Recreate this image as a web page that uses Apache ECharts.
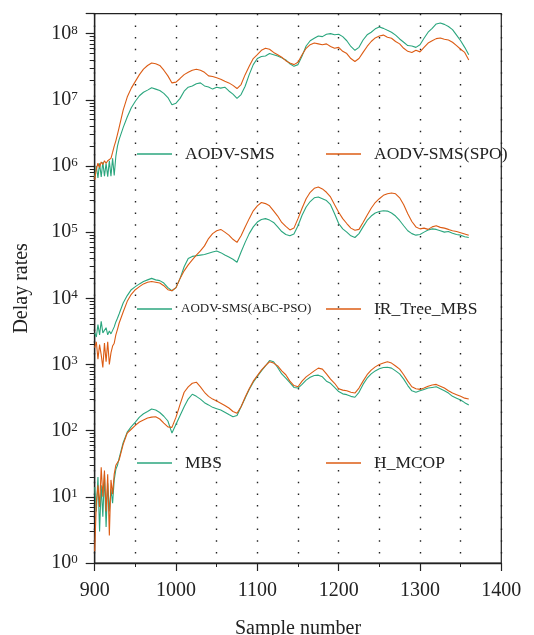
<!DOCTYPE html>
<html>
<head>
<meta charset="utf-8">
<script src="https://cdn.jsdelivr.net/npm/echarts@6/dist/echarts.min.js"></script>
<style>
    html, body { margin: 0; padding: 0; background: #fff; }
    #chart { width: 534px; height: 635px; }
</style>
</head>
<body>
<div id="chart"></div>
<script>
    // sample numbers (x)
    const samples = [
        900, 902, 904, 906, 908, 910, 912, 914, 916, 918, 920, 922, 924, 926, 928, 930,
        935, 940, 945, 950, 955, 960, 965, 970, 975, 980, 985, 990, 995, 1000,
        1005, 1010, 1015, 1020, 1025, 1030, 1035, 1040, 1045, 1050, 1055, 1060, 1065, 1070, 1075, 1080, 1085, 1090, 1095, 1100,
        1105, 1110, 1115, 1120, 1125, 1130, 1135, 1140, 1145, 1150, 1155, 1160, 1165, 1170, 1175, 1180, 1185, 1190, 1195, 1200,
        1205, 1210, 1215, 1220, 1225, 1230, 1235, 1240, 1245, 1250, 1255, 1260, 1265, 1270, 1275, 1280, 1285, 1290, 1295, 1300,
        1305, 1310, 1315, 1320, 1325, 1330, 1335, 1340, 1345, 1350, 1355, 1360
    ]

    const aodvSms = [
        6.8e5, 1.0e6, 6.6e5, 1.1e6, 6.8e5, 1.15e6, 7.0e5, 1.1e6, 6.9e5, 1.2e6, 7.0e5, 1.3e6, 7.2e5, 1.4e6, 2.0e6, 2.5e6,
        3.8e6, 5.5e6, 7.6e6, 9.5e6, 1.15e7, 1.3e7, 1.4e7, 1.52e7, 1.45e7, 1.38e7, 1.25e7, 1.08e7, 8.4e6, 8.9e6,
        1.05e7, 1.35e7, 1.55e7, 1.62e7, 1.75e7, 1.8e7, 1.62e7, 1.56e7, 1.45e7, 1.55e7, 1.5e7, 1.55e7, 1.36e7, 1.22e7, 1.05e7, 1.2e7, 1.6e7, 2.4e7, 3.4e7, 4.2e7,
        4.5e7, 4.6e7, 5.0e7, 4.8e7, 4.6e7, 4.3e7, 4.0e7, 3.5e7, 3.2e7, 3.4e7, 4.6e7, 6.5e7, 7.8e7, 8.5e7, 9.2e7, 9.0e7, 9.8e7, 1.0e8, 9.6e7, 9.8e7,
        9.0e7, 7.8e7, 6.4e7, 5.6e7, 6.2e7, 8.0e7, 9.6e7, 1.05e8, 1.18e8, 1.26e8, 1.2e8, 1.12e8, 1.05e8, 9.5e7, 8.3e7, 7.4e7, 6.6e7, 6.5e7, 6.2e7, 6.8e7,
        8.5e7, 1.05e8, 1.2e8, 1.4e8, 1.45e8, 1.38e8, 1.28e8, 1.15e8, 9.5e7, 7.8e7, 6.2e7, 4.8e7
    ]

    const aodvSmsSpo = [
        6.2e5, 9.0e5, 1.1e6, 9.5e5, 1.15e6, 1.05e6, 1.2e6, 1.1e6, 1.2e6, 1.15e6, 1.3e6, 1.6e6, 2.0e6, 2.4e6, 3.0e6, 3.8e6,
        7.0e6, 1.1e7, 1.5e7, 1.9e7, 2.4e7, 2.9e7, 3.3e7, 3.6e7, 3.5e7, 3.3e7, 2.8e7, 2.3e7, 1.8e7, 1.85e7,
        2.1e7, 2.4e7, 2.6e7, 2.8e7, 2.9e7, 2.8e7, 2.6e7, 2.3e7, 2.25e7, 2.15e7, 2.05e7, 1.9e7, 1.8e7, 1.65e7, 1.48e7, 1.7e7, 2.4e7, 3.2e7, 4.2e7, 4.8e7,
        5.6e7, 6.0e7, 5.8e7, 5.2e7, 4.8e7, 4.4e7, 3.9e7, 3.6e7, 3.4e7, 3.7e7, 4.8e7, 6.0e7, 6.8e7, 7.2e7, 7.0e7, 6.8e7, 7.0e7, 6.4e7, 6.0e7, 6.2e7,
        5.4e7, 5.0e7, 4.2e7, 3.8e7, 4.2e7, 5.2e7, 6.4e7, 7.6e7, 8.6e7, 9.2e7, 9.5e7, 8.8e7, 8.5e7, 7.6e7, 7.0e7, 6.0e7, 5.4e7, 5.2e7, 5.6e7, 5.3e7,
        6.2e7, 7.2e7, 7.8e7, 8.4e7, 8.6e7, 8.2e7, 8.0e7, 7.4e7, 6.6e7, 5.8e7, 5.2e7, 4.0e7
    ]

    const abcPso = [
        3.0e3, 2.6e3, 4.0e3, 2.8e3, 4.5e3, 3.0e3, 2.9e3, 3.6e3, 2.8e3, 3.2e3, 2.9e3, 3.0e3, 3.7e3, 4.4e3, 5.0e3, 5.8e3,
        8.5e3, 1.1e4, 1.35e4, 1.5e4, 1.65e4, 1.8e4, 1.9e4, 2.0e4, 1.9e4, 1.85e4, 1.7e4, 1.45e4, 1.3e4, 1.45e4,
        2.0e4, 3.0e4, 4.0e4, 4.3e4, 4.4e4, 4.5e4, 4.6e4, 4.8e4, 5.0e4, 5.2e4, 4.9e4, 4.5e4, 4.2e4, 3.9e4, 3.5e4, 5.0e4, 7.0e4, 9.5e4, 1.2e5, 1.42e5,
        1.55e5, 1.6e5, 1.52e5, 1.4e5, 1.2e5, 1.02e5, 9.2e4, 8.8e4, 9.4e4, 1.25e5, 1.8e5, 2.4e5, 2.9e5, 3.3e5, 3.4e5, 3.2e5, 3.0e5, 2.6e5, 1.9e5, 1.35e5,
        1.12e5, 1.0e5, 8.8e4, 8.3e4, 9.5e4, 1.2e5, 1.5e5, 1.75e5, 1.95e5, 2.05e5, 2.1e5, 2.08e5, 1.95e5, 1.75e5, 1.5e5, 1.25e5, 1.05e5, 9.5e4, 9.0e4, 9.2e4,
        1.0e5, 1.08e5, 1.12e5, 1.1e5, 1.05e5, 1.0e5, 1.02e5, 9.6e4, 9.2e4, 9.0e4, 8.5e4, 8.3e4
    ]

    const irTreeMbs = [
        1.8e3, 2.2e3, 1.2e3, 2.0e3, 1.4e3, 9.0e2, 2.1e3, 1.1e3, 2.2e3, 1.0e3, 1.5e3, 1.9e3, 2.1e3, 2.8e3, 3.4e3, 4.2e3,
        6.2e3, 9.0e3, 1.15e4, 1.35e4, 1.5e4, 1.65e4, 1.75e4, 1.8e4, 1.75e4, 1.7e4, 1.55e4, 1.35e4, 1.3e4, 1.45e4,
        2.0e4, 2.6e4, 3.2e4, 3.8e4, 4.5e4, 5.2e4, 6.2e4, 8.0e4, 9.5e4, 1.05e5, 1.1e5, 1.0e5, 9.0e4, 7.8e4, 7.0e4, 8.8e4, 1.2e5, 1.6e5, 2.1e5, 2.5e5,
        2.8e5, 2.7e5, 2.5e5, 2.1e5, 1.75e5, 1.4e5, 1.22e5, 1.08e5, 1.15e5, 1.6e5, 2.3e5, 3.2e5, 4.0e5, 4.6e5, 4.8e5, 4.5e5, 4.0e5, 3.4e5, 2.6e5, 2.0e5,
        1.6e5, 1.35e5, 1.15e5, 1.07e5, 1.1e5, 1.4e5, 1.8e5, 2.3e5, 2.8e5, 3.2e5, 3.6e5, 3.8e5, 3.9e5, 3.8e5, 3.3e5, 2.6e5, 1.9e5, 1.45e5, 1.2e5, 1.12e5,
        1.15e5, 1.1e5, 1.2e5, 1.25e5, 1.18e5, 1.15e5, 1.1e5, 1.05e5, 1.02e5, 9.8e4, 9.4e4, 9.0e4
    ]

    const mbs = [
        14, 6, 20, 3, 15, 5, 22, 3.5, 16, 6, 13, 8, 18, 26, 30, 38,
        66, 95, 115, 135, 160, 180, 195, 212, 205, 188, 165, 140, 92, 125,
        170, 230, 300, 355, 330, 300, 265, 245, 225, 215, 205, 190, 175, 162, 170, 230, 310, 420, 540, 660,
        800, 950, 1150, 1100, 900, 720, 620, 530, 450, 440, 500, 580, 640, 680, 690, 650, 560, 520, 450, 390,
        360, 350, 330, 320, 380, 500, 620, 720, 800, 860, 900, 910, 880, 800, 720, 600, 480, 400, 380, 400,
        420, 440, 450, 460, 430, 400, 370, 330, 310, 290, 265, 245
    ]

    const hMcop = [
        1.5, 8, 15, 7, 28, 10, 25, 6, 22, 2.6, 18, 11, 22, 30, 32, 36,
        62, 92, 105, 120, 135, 145, 155, 160, 162, 150, 130, 114, 112, 160,
        250, 380, 460, 520, 540, 460, 380, 330, 300, 280, 260, 240, 220, 195, 183, 230, 320, 430, 560, 680,
        820, 960, 1100, 1050, 950, 800, 700, 560, 480, 460, 560, 650, 720, 800, 880, 850, 720, 600, 520, 430,
        410, 400, 380, 370, 440, 560, 700, 820, 920, 1000, 1050, 1100, 1050, 950, 850, 700, 560, 460, 430, 420,
        440, 470, 490, 500, 470, 440, 400, 370, 350, 330, 310, 300
    ]

    const seriesNames = ['AODV-SMS', 'AODV-SMS(SPO)', 'AODV-SMS(ABC-PSO)', 'IR_Tree_MBS', 'MBS', 'H_MCOP']
    const seriesValues = [aodvSms, aodvSmsSpo, abcPso, irTreeMbs, mbs, hMcop]
    const yExponents = [0, 1, 2, 3, 4, 5, 6, 7, 8]
    const yTop = 2e8

    const GREEN = '#2ba67e'
    const ORANGE = '#dc5c14'
    const INK = '#222'
    const FONT = 'Liberation Serif'

    // minor tick positions (2..9 per decade) on a hidden log10 scale
    const minorTicks = []
    yExponents.forEach(e => {
        for (let k = 2; k <= 9; k++) {
            const v = Math.log10(k) + e
            if (v <= Math.log10(yTop)) minorTicks.push(v)
        }
    })

    const chart = echarts.init(document.getElementById('chart'))

    // [name, left, top, fontSize]
    const legendPos = [
        ['AODV-SMS', 137, 144, 17.5],
        ['AODV-SMS(SPO)', 326, 144, 17.5],
        ['AODV-SMS(ABC-PSO)', 137, 299, 13],
        ['IR_Tree_MBS', 326, 299, 17.5],
        ['MBS', 137, 453, 17.5],
        ['H_MCOP', 326, 453, 17.5]
    ]

    const dotted = {
        color: INK,
        width: 1.4,
        type: [1.5, 10.2]
    }

    chart.setOption({
        animation: false,
        textStyle: { fontFamily: FONT, color: INK },
        grid: {
            left: 94.7,
            right: 32.7,
            top: 13.7,
            bottom: 72,
            outerBoundsMode: 'none',
            containLabel: false,
            show: true,
            borderColor: INK,
            borderWidth: 1.2
        },
        legend: legendPos.map(p => ({
            data: [p[0]],
            left: p[1],
            top: p[2],
            padding: 0,
            icon: 'rect',
            itemWidth: 35,
            itemHeight: 1.6,
            selectedMode: false,
            textStyle: {
                fontFamily: FONT,
                fontSize: p[3],
                lineHeight: 20,
                color: INK,
                padding: [0, 0, 0, p[3] < 15 ? 4 : 8]
            }
        })),
        xAxis: {
            type: 'value',
            min: 900,
            max: 1400,
            interval: 100,
            name: 'Sample number',
            nameLocation: 'middle',
            nameGap: 56,
            nameTextStyle: { fontFamily: FONT, fontSize: 20, color: INK },
            axisLine: { lineStyle: { color: INK, width: 1.3 } },
            axisTick: { length: 8, lineStyle: { color: INK, width: 1.2 } },
            minorTick: { show: true, splitNumber: 2, length: 4, lineStyle: { color: INK, width: 1 } },
            axisLabel: { fontFamily: FONT, fontSize: 20, color: INK, margin: 18, formatter: v => String(v) },
            splitLine: { show: true, lineStyle: dotted },
            minorSplitLine: { show: true, lineStyle: dotted }
        },
        yAxis: [
            {
                type: 'log',
                logBase: 10,
                min: 1,
                max: yTop,
                name: 'Delay rates',
                nameLocation: 'middle',
                nameGap: 63,
                nameTextStyle: { fontFamily: FONT, fontSize: 20, color: INK },
                axisLine: { show: true, lineStyle: { color: INK, width: 1.3 } },
                axisTick: { show: true, length: 9, lineStyle: { color: INK, width: 1.2 } },
                axisLabel: {
                    margin: 17,
                    formatter: v => {
                        const e = Math.round(Math.log10(v))
                        if (yExponents.indexOf(e) < 0 || Math.abs(Math.log10(v) - e) > 1e-6) return ''
                        return '{b|10}{s|' + e + '}'
                    },
                    rich: {
                        b: { fontFamily: FONT, fontSize: 20, color: INK },
                        s: { fontFamily: FONT, fontSize: 13, color: INK, verticalAlign: 'top' }
                    }
                },
                splitLine: { show: false }
            },
            {
                type: 'value',
                min: 0,
                max: Math.log10(yTop),
                position: 'left',
                axisLine: { show: false },
                axisTick: { show: true, length: 5, customValues: minorTicks, lineStyle: { color: INK, width: 1 } },
                axisLabel: { show: false },
                splitLine: { show: false }
            }
        ],
        series: seriesNames.map((name, i) => ({
            name: name,
            type: 'line',
            symbol: 'none',
            color: i % 2 === 0 ? GREEN : ORANGE,
            lineStyle: { width: 1.1 },
            data: samples.map((s, j) => [s, seriesValues[i][j]])
        }))
    })
</script>
</body>
</html>
